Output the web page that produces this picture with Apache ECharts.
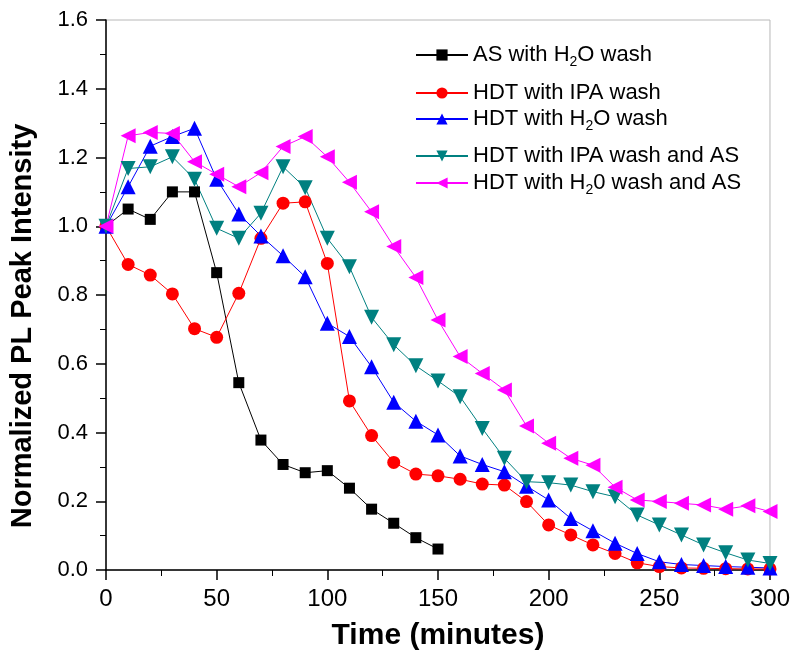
<!DOCTYPE html>
<html>
<head>
<meta charset="utf-8">
<script src="https://cdn.jsdelivr.net/npm/echarts@6/dist/echarts.min.js"></script>
<style>
  html, body { margin: 0; padding: 0; background: #fff; }
  #chart { width: 793px; height: 657px; }
</style>
</head>
<body>
<div id="chart"></div>
<script>
// time in minutes
const times = [0, 10, 20, 30, 40, 50, 60, 70, 80, 90, 100, 110, 120, 130, 140, 150,
  160, 170, 180, 190, 200, 210, 220, 230, 240, 250, 260, 270, 280, 290, 300]

// normalized PL peak intensity, one list per sample
const asH2O = [1.0, 1.05, 1.02, 1.10, 1.10, 0.865, 0.545, 0.378, 0.307, 0.283, 0.289,
  0.238, 0.177, 0.136, 0.094, 0.061]
const hdtIPA = [1.0, 0.889, 0.858, 0.803, 0.702, 0.677, 0.805, 0.965, 1.067, 1.071, 0.892,
  0.492, 0.391, 0.313, 0.279, 0.274, 0.264, 0.250, 0.247, 0.199, 0.131,
  0.102, 0.073, 0.048, 0.021, 0.010, 0.006, 0.005, 0.004, 0.003, 0.003]
const hdtH2O = [1.0, 1.115, 1.233, 1.261, 1.285, 1.137, 1.036, 0.972, 0.914, 0.853, 0.718,
  0.679, 0.591, 0.488, 0.433, 0.393, 0.332, 0.307, 0.286, 0.244, 0.204,
  0.150, 0.114, 0.078, 0.048, 0.024, 0.016, 0.013, 0.010, 0.008, 0.006]
const hdtIPAAS = [1.0, 1.168, 1.173, 1.202, 1.137, 0.994, 0.965, 1.038, 1.173, 1.112, 0.965,
  0.882, 0.735, 0.655, 0.594, 0.550, 0.504, 0.412, 0.325, 0.257, 0.254,
  0.247, 0.228, 0.213, 0.160, 0.131, 0.102, 0.073, 0.050, 0.029, 0.019]
const hdtH2OAS = [1.0, 1.263, 1.273, 1.270, 1.188, 1.151, 1.115, 1.156, 1.232, 1.261, 1.202,
  1.128, 1.042, 0.941, 0.851, 0.727, 0.621, 0.572, 0.524, 0.419, 0.369,
  0.325, 0.305, 0.241, 0.204, 0.199, 0.194, 0.189, 0.177, 0.187, 0.170]

const names = ['AS with H2O wash', 'HDT with IPA wash', 'HDT with H2O wash',
  'HDT with IPA wash and AS', 'HDT with H20 wash and AS']
// legend labels with subscripts
const labels = ['AS with H{sub|2}O wash', 'HDT with IPA wash', 'HDT with H{sub|2}O wash',
  'HDT with IPA wash and AS', 'HDT with H{sub|2}0 wash and AS']
const legendTops = [39, 77, 103, 140, 167]

const colors = ['#000000', '#ff0000', '#0000ff', '#008080', '#ff00ff']
const symbols = ['rect', 'circle', 'triangle',
  'path://M0,0 L10,0 L5,9 Z', 'path://M9,0 L9,10 L0,5 Z']
const sizes = [11, 13, 15, 15, 15]
const values = [asH2O, hdtIPA, hdtH2O, hdtIPAAS, hdtH2OAS]

const font = '"Liberation Sans", Arial, sans-serif'

const chart = echarts.init(document.getElementById('chart'))

const series = values.map((vals, i) => ({
  name: names[i],
  type: 'line',
  data: vals.map((v, j) => [times[j], v]),
  symbol: symbols[i],
  symbolSize: sizes[i],
  showAllSymbol: true,
  lineStyle: { color: colors[i], width: 1 },
  itemStyle: { color: colors[i] },
  animation: false,
}))

const legends = names.map((n, i) => ({
  data: [n],
  left: 410,
  top: legendTops[i],
  itemWidth: 52,
  itemHeight: 14,
  formatter: () => labels[i],
  textStyle: {
    fontFamily: font,
    fontSize: 22,
    color: '#000',
    rich: {
      sub: { fontFamily: font, fontSize: 14, padding: [15, 0, 0, 0] },
    },
  },
  selectedMode: false,
}))

chart.setOption({
  animation: false,
  grid: {
    left: 105,
    right: 23,
    top: 20,
    bottom: 87,
    show: true,
    borderColor: '#b8b8b8',
    borderWidth: 1,
  },
  legend: legends,
  xAxis: {
    type: 'value',
    min: 0,
    max: 300,
    interval: 50,
    name: 'Time (minutes)',
    nameLocation: 'middle',
    nameGap: 51,
    nameTextStyle: { fontFamily: font, fontSize: 30, fontWeight: 'bold', color: '#000' },
    axisLine: { lineStyle: { color: '#000', width: 1.5 } },
    axisTick: { length: 10, lineStyle: { color: '#000', width: 1.5 } },
    minorTick: { show: true, splitNumber: 2, length: 6, lineStyle: { color: '#000' } },
    axisLabel: { fontFamily: font, fontSize: 24, color: '#000', margin: 17 },
    splitLine: { show: false },
  },
  yAxis: {
    type: 'value',
    min: 0,
    max: 1.6,
    interval: 0.2,
    name: 'Normalized PL Peak Intensity',
    nameLocation: 'middle',
    nameGap: 69,
    nameTextStyle: {
      fontFamily: font, fontSize: 29, fontWeight: 'bold', color: '#000',
      padding: [0, 62, 0, 0],
    },
    axisLine: { show: true, lineStyle: { color: '#000', width: 1.5 } },
    axisTick: { show: true, length: 10, lineStyle: { color: '#000', width: 1.5 } },
    minorTick: { show: true, splitNumber: 2, length: 6, lineStyle: { color: '#000' } },
    axisLabel: {
      fontFamily: font, fontSize: 22, color: '#000', margin: 18,
      formatter: (v) => v.toFixed(1),
    },
    splitLine: { show: false },
  },
  series: series,
})
</script>
</body>
</html>
